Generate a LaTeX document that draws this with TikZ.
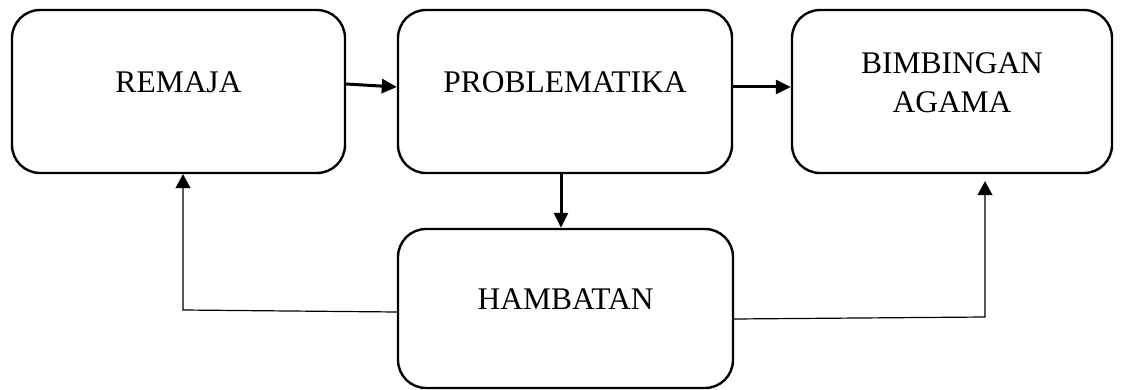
\documentclass[tikz,border=0pt]{standalone}
\usepackage{fontspec}
\setmainfont{Liberation Serif}
\usetikzlibrary{arrows.meta}
\begin{document}
\begin{tikzpicture}[x=1pt,y=-1pt,
  box/.style={draw, line width=2.4pt, rounded corners=28pt, align=center,
    font=\fontsize{31.5}{39}\selectfont, text depth=18pt, inner sep=0pt},
  thickarrow/.style={line width=3pt, -{Triangle[length=15pt,width=14pt]}},
  thinarrow/.style={line width=1.2pt, -{Triangle[length=14pt,width=15pt]}}]
\useasboundingbox (0,0) rectangle (1123,390);
\node[box, minimum width=333pt, minimum height=163pt] (remaja) at (178.5,91.5) {REMAJA};
\node[box, minimum width=334pt, minimum height=163pt] (prob) at (565,91.5) {PROBLEMATIKA};
\node[box, minimum width=320pt, minimum height=163pt] (bimb) at (952,91.5) {BIMBINGAN\\AGAMA};
\node[box, minimum width=335pt, minimum height=159pt] (hamb) at (565.5,308.5) {HAMBATAN};
\coordinate (lc) at (183,310);
\coordinate (rc) at (985,317);
\draw[thickarrow] ([yshift=7.5pt]remaja.east) -- ([yshift=4.5pt]prob.west);
\draw[thickarrow] ([yshift=4.5pt]prob.east) -- ([yshift=4.5pt]bimb.west);
\draw[thickarrow] ([xshift=-4pt]prob.south) -- ([xshift=-4.5pt]hamb.north);
\draw[thinarrow] ([yshift=-3.5pt]hamb.west) -- (lc) -- (lc |- remaja.south);
\draw[thinarrow, shorten >=7pt] ([yshift=-10.5pt]hamb.east) -- (rc) -- (rc |- bimb.south);
\end{tikzpicture}
\end{document}
